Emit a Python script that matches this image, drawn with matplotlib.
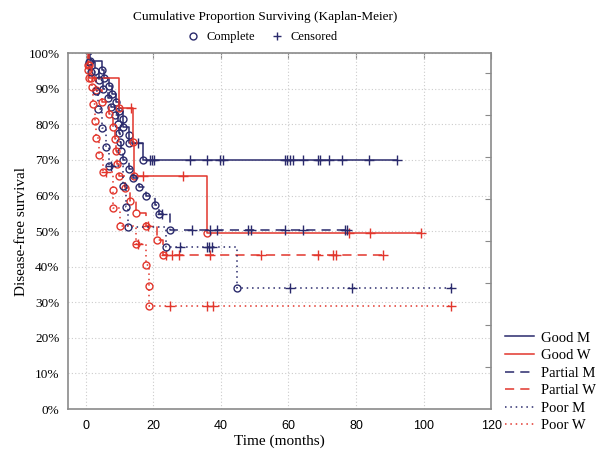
"""Kaplan-Meier disease-free survival by group and sex."""
import numpy as np
import matplotlib
matplotlib.use("Agg")
import matplotlib.pyplot as plt
from matplotlib.lines import Line2D

NAVY = "#2a2a6c"
RED = "#e2362c"

# event times (months), survival after each event (%), censored times
good_m_ev = [1.2, 4.7, 5.5, 6.8, 7.7, 8.8, 9.8, 10.9, 11.0, 12.8, 12.9, 16.9]
good_m_sv = [97.7, 95.4, 93.1, 90.8, 88.5, 86.2, 83.9, 81.6, 79.3, 77.0, 74.7, 70.0]
good_m_cens = [15.5, 19.0, 19.5, 20.2, 30.8, 35.8, 39.7, 40.5, 59.0, 59.6, 60.4,
               61.3, 64.3, 68.7, 69.3, 72.0, 75.8, 83.9, 92.0]

good_w_ev = [0.5, 1.0, 9.8, 14.0, 14.2, 36.0]
good_w_sv = [96.6, 93.1, 84.5, 75.0, 65.5, 49.4]
good_w_cens = [13.3, 17.0, 28.7, 78.0, 84.0, 99.3]

partial_m_ev = [1.0, 2.7, 4.0, 5.0, 6.5, 7.5, 8.5, 9.5, 9.8, 10.2, 10.5, 10.9,
                12.8, 13.9, 15.7, 17.8, 20.4, 21.6, 24.9]
partial_m_sv = [97.5, 95.0, 92.5, 90.0, 87.5, 85.0, 82.5, 80.0, 77.5, 75.0, 72.5,
                70.0, 67.4, 65.0, 62.4, 59.8, 57.3, 54.8, 50.3]
partial_m_cens = [22.5, 31.4, 36.7, 38.8, 48.0, 48.8, 59.0, 64.3, 76.7, 77.3]

partial_w_ev = [0.8, 1.5, 3.0, 4.7, 6.8, 8.0, 8.5, 9.0, 9.3, 9.8, 11.5, 13.0,
                14.8, 17.8, 21.0, 22.8]
partial_w_sv = [96.6, 93.1, 89.7, 86.2, 82.8, 79.3, 75.9, 72.4, 69.0, 65.5, 62.0,
                58.6, 55.1, 51.5, 47.5, 43.3]
partial_w_cens = [18.5, 23.8, 25.5, 27.6, 36.7, 52.0, 68.7, 73.2, 74.1, 88.0]

poor_m_ev = [1.5, 3.0, 3.6, 4.7, 5.9, 6.8, 11.0, 12.0, 12.4, 23.7, 44.7]
poor_m_sv = [94.7, 89.4, 84.2, 78.9, 73.7, 68.4, 62.6, 56.8, 51.1, 45.5, 34.1]
poor_m_cens = [7.5, 27.9, 35.9, 36.5, 37.3, 60.4, 78.8, 108.0]

poor_w_ev = [0.5, 1.8, 2.0, 2.7, 3.0, 3.9, 5.0, 8.0, 8.1, 10.0, 14.8, 17.8, 18.7, 18.8]
poor_w_sv = [95.2, 90.5, 85.7, 81.0, 76.2, 71.4, 66.7, 61.6, 56.5, 51.4, 46.3,
             40.5, 34.7, 28.9]
poor_w_cens = [6.0, 15.5, 25.0, 35.8, 37.6, 108.0]

labels = ["Good M", "Good W", "Partial M", "Partial W", "Poor M", "Poor W"]
series = [
    (good_m_ev, good_m_sv, good_m_cens),
    (good_w_ev, good_w_sv, good_w_cens),
    (partial_m_ev, partial_m_sv, partial_m_cens),
    (partial_w_ev, partial_w_sv, partial_w_cens),
    (poor_m_ev, poor_m_sv, poor_m_cens),
    (poor_w_ev, poor_w_sv, poor_w_cens),
]
colors = [NAVY, RED, NAVY, RED, NAVY, RED]
styles = ["-", "-", (0, (6, 4)), (0, (6, 4)), (0, (1, 2.5)), (0, (1, 2.5))]

x_ticks = [0, 20, 40, 60, 80, 100, 120]
y_ticks = np.arange(0, 101, 10)

SERIF = "Liberation Serif"


def level(ev, sv, t):
    i = np.searchsorted(ev, t, side="right")
    return 100.0 if i == 0 else sv[i - 1]


fig = plt.figure(figsize=(5.96, 4.51), dpi=100)
ax = fig.add_axes([0.114, 0.093, 0.71, 0.789])

handles = []
for (ev, sv, cens), lab, c, ls in zip(series, labels, colors, styles):
    end = max(cens[-1], ev[-1])
    xs = [0.0] + list(ev) + [end]
    ys = [100.0] + list(sv) + [sv[-1]]
    ax.step(xs, ys, where="post", color=c, linestyle=ls, linewidth=1.1)
    ax.plot(ev, sv, linestyle="none", marker="o", markersize=5,
            markerfacecolor="none", markeredgecolor=c, markeredgewidth=1.0)
    cy = [level(ev, sv, t) for t in cens]
    ax.plot(cens, cy, linestyle="none", marker="+", markersize=7,
            markeredgecolor=c, markeredgewidth=1.0)
    handles.append(Line2D([], [], color=c, linestyle=ls, linewidth=1.1, label=lab))

ax.set_xlim(-5.3, 120)
ax.set_ylim(0, 100)
ax.set_xticks(x_ticks)
ax.set_yticks(y_ticks)
ax.set_yticklabels([f"{v}%" for v in y_ticks], fontfamily=SERIF, fontsize=9.5)
for t in ax.get_xticklabels():
    t.set_fontfamily("Liberation Sans")
    t.set_fontsize(9)
ax.tick_params(axis="x", length=0, pad=8)
ax.tick_params(axis="y", length=0, pad=6)
ax.grid(True, color="#cccccc", linestyle=(0, (1, 2)), linewidth=0.8)
for s in ax.spines.values():
    s.set_color("#8a8a8a")
    s.set_linewidth(1.2)

# inward ticks on the top and right edges
top = ax.secondary_xaxis("top")
top.set_xticks(x_ticks)
top.set_xticklabels([])
top.tick_params(direction="in", length=4, color="#8a8a8a")
right = ax.secondary_yaxis("right")
right.set_yticks(np.arange(11.8, 100, 11.8))
right.set_yticklabels([])
right.tick_params(direction="in", length=4, color="#8a8a8a")
for sp in list(top.spines.values()) + list(right.spines.values()):
    sp.set_visible(False)

ax.set_xlabel("Time (months)", fontfamily=SERIF, fontsize=11, labelpad=2)
ax.set_ylabel("Disease-free survival", fontfamily=SERIF, fontsize=11, labelpad=0)

fig.text(0.445, 0.962, "Cumulative Proportion Surviving (Kaplan-Meier)",
         ha="center", va="center", fontfamily=SERIF, fontsize=9.5)
head = [
    Line2D([], [], linestyle="none", marker="o", markersize=5, markerfacecolor="none",
           markeredgecolor=NAVY, label="Complete"),
    Line2D([], [], linestyle="none", marker="+", markersize=6, markeredgecolor=NAVY,
           label="Censored"),
]
fig.legend(handles=head, loc="center", bbox_to_anchor=(0.44, 0.917), ncol=2,
           frameon=False, prop={"family": SERIF, "size": 9}, handlelength=1.0,
           handletextpad=0.6, columnspacing=1.2, borderpad=0)

fig.legend(handles=handles, loc="lower left", bbox_to_anchor=(0.835, 0.025),
           frameon=False, prop={"family": SERIF, "size": 10.5}, handlelength=2.0,
           handletextpad=0.5, labelspacing=0.3, borderpad=0)

fig.savefig("out.png", dpi=100)
